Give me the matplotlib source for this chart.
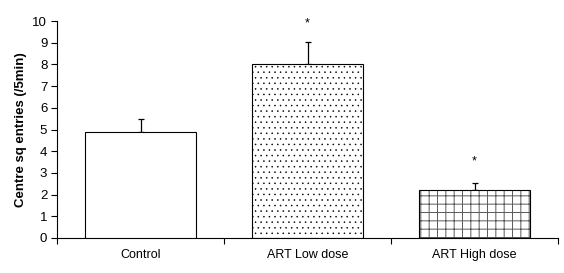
import matplotlib.pyplot as plt

groups = ["Control", "ART Low dose", "ART High dose"]
means = [4.9, 8.0, 2.2]
sem = [0.6, 1.05, 0.32]
hatches = ["", "...", "++"]
hatch_colors = ["black", "black", "0.35"]
hatch_widths = [0.5, 0.35, 0.7]
stars = ["", "*", "*"]
star_y = [None, 9.9, 3.55]

plt.rcParams['font.family'] = ['Liberation Sans', 'DejaVu Sans']

fig = plt.figure(figsize=(5.64, 2.73), dpi=100)
ax = fig.add_axes([57 / 564, 1 - 238 / 273, (558 - 57) / 564, (238 - 21) / 273])

pos = [i + 0.5 for i in range(len(groups))]
for x, m, e, h, hc, hw in zip(pos, means, sem, hatches, hatch_colors, hatch_widths):
    # hatch layer first, then a plain black outline on top
    if h:
        plt.rcParams['hatch.linewidth'] = hw
        bars = ax.bar(x, m, width=0.665, color="white", edgecolor=hc,
                      linewidth=0, hatch=h, zorder=2)
        for b in bars:
            if hasattr(b, "set_hatch_linewidth"):
                b.set_hatch_linewidth(hw)
    ax.bar(x, m, width=0.665, fill=False if h else True, color="white",
           edgecolor="black", linewidth=0.8, zorder=3)
    ax.errorbar(x, m, yerr=[[0], [e]], fmt="none", ecolor="black",
                elinewidth=0.9, capsize=2.3, capthick=0.9, zorder=1)

for x, s, y in zip(pos, stars, star_y):
    if s:
        ax.text(x, y, s, ha="center", va="center", fontsize=9)

ax.set_xlim(0, 3)
ax.set_ylim(0, 10)
ax.set_yticks(range(0, 11))
ax.set_xticks([0, 1, 2, 3])
ax.set_xticklabels([])
ax.set_xticks(pos, minor=True)
ax.set_xticklabels(groups, minor=True, fontsize=9)
ax.tick_params(axis="x", which="minor", length=0, pad=8)
ax.tick_params(axis="x", which="major", length=4, width=0.8, direction="out")
ax.tick_params(axis="y", length=4, width=0.8, labelsize=9.5, pad=3)
ax.spines["top"].set_visible(False)
ax.spines["right"].set_visible(False)
ax.spines["left"].set_linewidth(0.8)
ax.spines["bottom"].set_linewidth(0.8)
ax.set_ylabel("Centre sq entries (/5min)", fontsize=9.5, fontweight="bold", labelpad=4)

fig.savefig("out.png", dpi=100)
